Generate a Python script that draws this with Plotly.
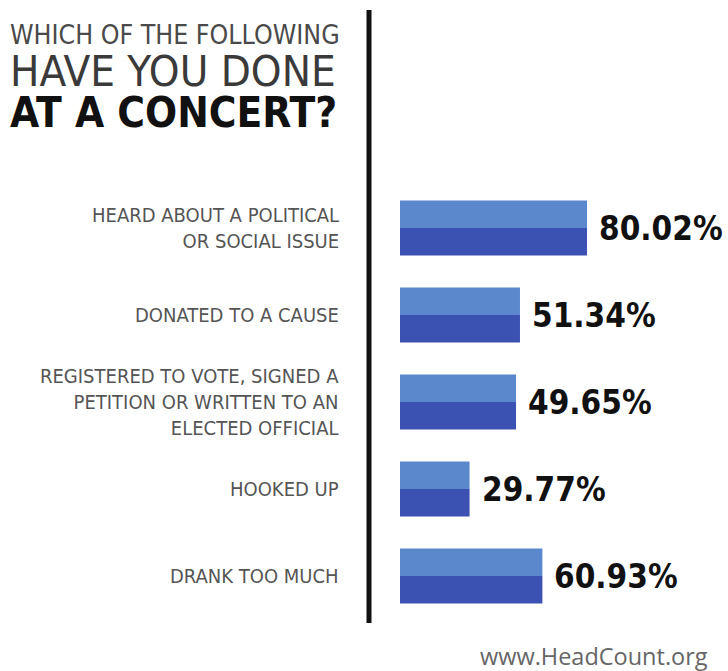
import plotly.graph_objects as go

categories = [
    "HEARD ABOUT A POLITICAL<br>OR SOCIAL ISSUE",
    "DONATED TO A CAUSE",
    "REGISTERED TO VOTE, SIGNED A<br>PETITION OR WRITTEN TO AN<br>ELECTED OFFICIAL",
    "HOOKED UP",
    "DRANK TOO MUCH",
]
values = [80.02, 51.34, 49.65, 29.77, 60.93]
value_labels = ["80.02%", "51.34%", "49.65%", "29.77%", "60.93%"]
title_lines = ["WHICH OF THE FOLLOWING", "HAVE YOU DONE", "AT A CONCERT?"]
source = "www.HeadCount.org"

W, H = 728, 671
px_per_pct = 2.337
x0_px = 400
xmin = -x0_px / px_per_pct
xmax = (W - x0_px) / px_per_pct
first_c, step = 228, 87
ymin = -first_c / step
ymax = (H - first_c) / step

pos = list(range(len(categories)))
bw = 0.63
LIGHT = "#5b87cd"
DARK = "#3c52b2"
NARROW = "DejaVu Sans Condensed, Roboto, sans-serif"

fig = go.Figure()
fig.add_trace(go.Bar(x=values, y=pos, orientation="h", width=bw / 2, offset=-bw / 2,
                     marker=dict(color=LIGHT, line=dict(width=0)), hoverinfo="skip"))
fig.add_trace(go.Bar(x=values, y=pos, orientation="h", width=bw / 2, offset=0,
                     marker=dict(color=DARK, line=dict(width=0)), hoverinfo="skip"))

for v, p, t in zip(values, pos, value_labels):
    fig.add_annotation(x=v, y=p, text=t, xref="x", yref="y", xanchor="left",
                       yanchor="middle", xshift=10, showarrow=False,
                       font=dict(family=NARROW, size=33, color="#111111", weight="bold"))

# category labels
for p, c in zip(pos, categories):
    fig.add_annotation(x=(341 - x0_px) / px_per_pct, y=p, text=c, xref="x", yref="y",
                       xanchor="right", yanchor="middle", align="right", showarrow=False,
                       font=dict(family=NARROW, size=20, color="#555555"))

# title
title_specs = [
    (title_lines[0], 34, 26.5, "#4a4a4a", "normal"),
    (title_lines[1], 71, 43.5, "#3a3a3a", "normal"),
    (title_lines[2], 113, 42, "#111111", "bold"),
]
for t, yc, sz, col, wt in title_specs:
    fig.add_annotation(x=8 / W, y=1 - yc / H, xref="paper", yref="paper", text=t,
                       xanchor="left", yanchor="middle", showarrow=False,
                       font=dict(family=NARROW, size=sz, color=col, weight=wt))

fig.add_annotation(x=710 / W, y=1 - 656 / H, xref="paper", yref="paper", text=source,
                   xanchor="right", yanchor="middle", showarrow=False,
                   font=dict(family="Open Sans, sans-serif", size=23.5, color="#666666"))

fig.add_shape(type="line", xref="paper", yref="paper", x0=369 / W, x1=369 / W,
              y0=1 - 10 / H, y1=1 - 623 / H, line=dict(color="#111111", width=5))

fig.update_layout(
    width=W, height=H, margin=dict(l=0, r=0, t=0, b=0),
    paper_bgcolor="white", plot_bgcolor="white", showlegend=False,
    barmode="overlay",
    xaxis=dict(range=[xmin, xmax], visible=False, fixedrange=True),
    yaxis=dict(range=[ymax, ymin], visible=False, fixedrange=True),
)
fig.write_html("out.html")
